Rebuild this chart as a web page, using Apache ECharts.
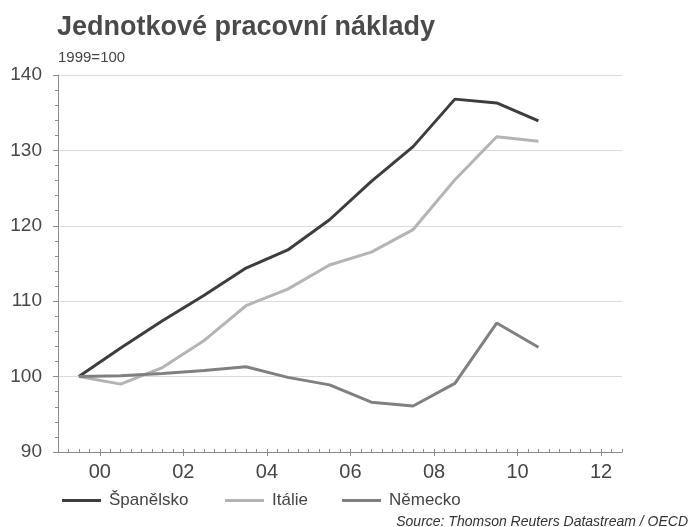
<!DOCTYPE html>
<html>
<head>
<meta charset="utf-8">
<script src="https://cdn.jsdelivr.net/npm/echarts@6/dist/echarts.min.js"></script>
<style>
  html, body { margin: 0; padding: 0; background: #fff; }
  #chart { width: 691px; height: 527px; }
</style>
</head>
<body>
<div id="chart"></div>
<script>
// Mid-year positions of annual observations (1999..2010)
var years = [1999.5, 2000.5, 2001.5, 2002.5, 2003.5, 2004.5, 2005.5, 2006.5, 2007.5, 2008.5, 2009.5, 2010.5];
var spainValues   = [100, 103.8, 107.4, 110.8, 114.4, 116.8, 120.8, 125.9, 130.5, 136.8, 136.3, 133.9];
var italyValues   = [100, 99.0, 101.2, 104.8, 109.4, 111.6, 114.8, 116.5, 119.5, 126.1, 131.8, 131.2];
var germanyValues = [100, 100.1, 100.4, 100.8, 101.3, 99.9, 98.9, 96.6, 96.1, 99.1, 107.1, 103.9];
var seriesNames = ['Španělsko', 'Itálie', 'Německo'];
var xTickYears = [2000, 2002, 2004, 2006, 2008, 2010, 2012];

var FONT = 'Liberation Sans, Arial, Helvetica, sans-serif';
var colors = ['#3d3d3d', '#b4b4b4', '#808080'];

function pairs(vals) {
  return years.map(function (y, i) { return [y, vals[i]]; });
}

var chart = echarts.init(document.getElementById('chart'), null, { renderer: 'canvas' });

var legendLefts = [57, 220, 337];

var option = {
  backgroundColor: '#ffffff',
  animation: false,
  title: [
    {
      text: 'Jednotkové pracovní náklady',
      left: 52, top: 9,
      textStyle: { fontFamily: FONT, fontSize: 27, fontWeight: 'bold', color: '#4a4a4a' }
    },
    {
      text: '1999=100',
      left: 53, top: 45,
      textStyle: { fontFamily: FONT, fontSize: 15, fontWeight: 'normal', color: '#444' }
    },
    {
      text: 'Source: Thomson Reuters Datastream / OECD',
      right: -2, top: 510,
      textStyle: { fontFamily: FONT, fontSize: 14, fontStyle: 'italic', fontWeight: 'normal', color: '#333' }
    }
  ],
  legend: seriesNames.map(function (n, i) {
    return {
      data: [n],
      left: legendLefts[i], top: 487,
      icon: 'rect', itemWidth: 39, itemHeight: 3,
      textStyle: { fontFamily: FONT, fontSize: 17, color: '#444', padding: [0, 0, 0, 3] }
    };
  }),
  grid: { left: 58, right: 69, top: 75, bottom: 75, containLabel: false },
  xAxis: [
    {
      type: 'value', min: 1999, max: 2012.5, interval: 0.5,
      position: 'bottom',
      axisLine: { show: true, lineStyle: { color: '#8a8a8a', width: 1 } },
      axisTick: { show: true, customValues: xTickYears, length: 4, lineStyle: { color: '#8a8a8a' } },
      axisLabel: {
        customValues: xTickYears,
        fontFamily: FONT, fontSize: 20, color: '#444', margin: 10,
        formatter: function (v) { var s = String(Math.round(v) % 100); return s.length < 2 ? '0' + s : s; }
      },
      splitLine: { show: false }
    },
    {
      type: 'value', min: 1999, max: 2012.5, interval: 0.25,
      position: 'bottom',
      axisLine: { show: false },
      axisTick: { show: true, inside: true, length: 3, lineStyle: { color: '#8a8a8a' } },
      axisLabel: { show: false },
      splitLine: { show: false }
    }
  ],
  yAxis: {
    type: 'value', min: 90, max: 140, interval: 10,
    axisLine: { show: true, lineStyle: { color: '#8a8a8a', width: 1 } },
    axisTick: { show: true, length: 5, lineStyle: { color: '#8a8a8a' } },
    minorTick: { show: true, splitNumber: 5, length: 3, lineStyle: { color: '#8a8a8a' } },
    axisLabel: { fontFamily: FONT, fontSize: 19, color: '#474747', margin: 16 },
    splitLine: { show: true, lineStyle: { color: '#dadada', width: 1 } }
  },
  series: [
    { name: seriesNames[0], type: 'line', data: pairs(spainValues), xAxisIndex: 0, showSymbol: false, symbol: 'none',
      lineStyle: { color: colors[0], width: 3 }, itemStyle: { color: colors[0] }, z: 4 },
    { name: seriesNames[1], type: 'line', data: pairs(italyValues), xAxisIndex: 0, showSymbol: false, symbol: 'none',
      lineStyle: { color: colors[1], width: 3 }, itemStyle: { color: colors[1] }, z: 3 },
    { name: seriesNames[2], type: 'line', data: pairs(germanyValues), xAxisIndex: 0, showSymbol: false, symbol: 'none',
      lineStyle: { color: colors[2], width: 3 }, itemStyle: { color: colors[2] }, z: 5 }
  ]
};

chart.setOption(option);
</script>
</body>
</html>
